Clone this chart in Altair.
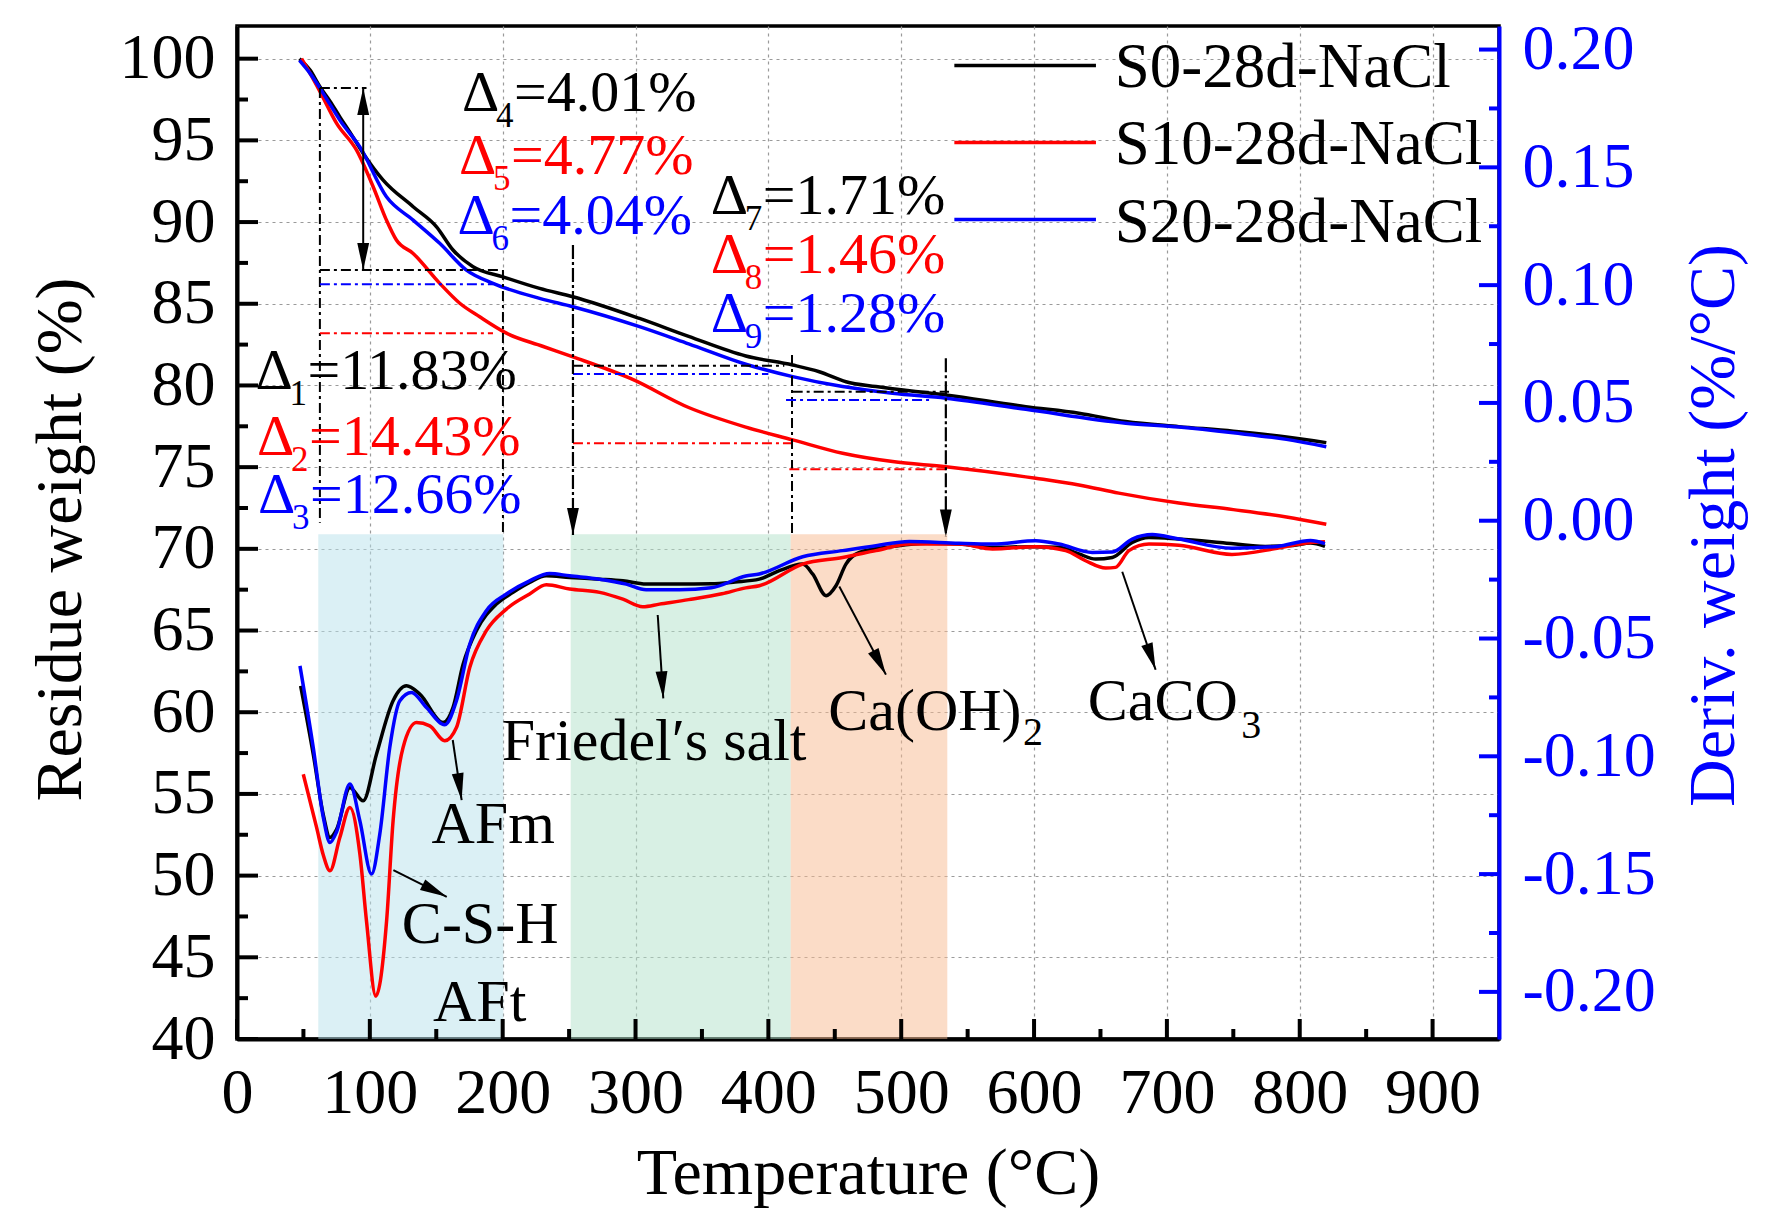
import math
import altair as alt
import pandas as pd

W, H = 1262, 1013
FONT = "Liberation Serif"
BLACK, RED, BLUE = "#000000", "#ff0000", "#0000ff"

series = ["S0-28d-NaCl", "S10-28d-NaCl", "S20-28d-NaCl"]
series_colors = [BLACK, RED, BLUE]

# TG curves: residue weight (%)
tg_s0_t = [47, 55, 62.4, 70, 77.4, 85, 95, 110, 132.6, 150.2, 162.6, 177.7, 200.2, 227.8, 252.9,
           303, 340, 383, 418.3, 438.3, 458.4, 481, 533.6, 593.8, 633.8, 669, 709, 750, 790, 820]
tg_s0_w = [100, 99.3, 98.28, 97.4, 96.44, 95.5, 94.2, 92.57, 90.94, 89.71, 88.29, 87.27, 86.65, 85.94, 85.43,
           84.1, 83.0, 81.8, 81.25, 80.84, 80.23, 79.93, 79.42, 78.7, 78.3, 77.79, 77.48, 77.2, 76.85, 76.5]

tg_s10_t = [48.6, 55, 62.4, 75, 90, 102.5, 112.5, 120, 132.6, 152.6, 167.7, 182.7, 202.8, 230, 252.9,
            297, 340, 383, 418.3, 455.9, 493.5, 533.6, 601.3, 633.8, 663.8, 709, 750, 790, 820]
tg_s10_w = [100, 99.1, 98.0, 96.04, 94.4, 92.16, 90.12, 88.9, 88.08, 86.25, 85.03, 84.2, 83.2, 82.4, 81.75,
            80.4, 78.65, 77.45, 76.67, 75.85, 75.34, 75.03, 74.32, 73.91, 73.41, 72.8, 72.4, 71.95, 71.5]

tg_s20_t = [47, 55, 62.4, 70, 77.4, 92.5, 112.5, 132.6, 152.6, 172.7, 192.7, 227.8, 252.9, 303, 340,
            383, 418.3, 455.9, 493.5, 533.6, 593.8, 669, 709, 750, 790, 820]
tg_s20_w = [99.9, 99.1, 98.2, 97.2, 96.24, 94.6, 91.55, 90.12, 88.7, 87.06, 86.25, 85.33, 84.82, 83.6, 82.55,
            81.3, 80.54, 79.93, 79.52, 79.22, 78.54, 77.69, 77.45, 77.1, 76.7, 76.25]

# DTG curves: derivative weight (%/°C)
dtg_s0_t = [47.9, 57.4, 65, 70, 75, 85, 95, 105, 117.5, 127.6, 137.6, 155.1, 162.6, 170.2, 180.2, 195.3,
            207.8, 220.3, 232.8, 250.4, 273, 290.5, 308, 333, 357, 375, 393.2, 408.3, 425.8, 433.3, 443.4,
            450.9, 458.4, 468.4, 493.5, 518.6, 543.6, 568.7, 598.7, 618.8, 633.8, 646.4, 658.9, 673.9,
            686.5, 709, 740, 774, 795, 808, 819]
dtg_s0_d = [-0.0701, -0.0991, -0.125, -0.1345, -0.131, -0.1133, -0.1189, -0.0991, -0.0764, -0.0701,
            -0.0736, -0.0857, -0.0793, -0.0609, -0.0467, -0.0354, -0.0304, -0.0262, -0.0234, -0.0241,
            -0.0248, -0.0255, -0.0269, -0.0269, -0.0268, -0.026, -0.0248, -0.0212, -0.0184, -0.0226,
            -0.0318, -0.0276, -0.0184, -0.0135, -0.011, -0.0096, -0.0099, -0.0113, -0.011, -0.0113,
            -0.0141, -0.0163, -0.0156, -0.0092, -0.0071, -0.0078, -0.0092, -0.0109, -0.0105, -0.0095, -0.0109]

dtg_s10_t = [49.9, 59.9, 65, 70, 77.4, 85, 92.5, 97.5, 104.5, 112.6, 117.5, 125, 135.1, 145.1, 156.4,
             165.2, 175.2, 187.7, 202.8, 220.3, 232.8, 250.4, 273, 290.5, 305.5, 318, 340, 365, 383,
             393.2, 425.8, 455.9, 481, 506, 543.6, 568.7, 601.3, 623.8, 638.8, 653.9, 661.4, 671.4,
             686.5, 709, 749, 783, 808, 819]
dtg_s10_d = [-0.1076, -0.1302, -0.142, -0.1486, -0.1345, -0.1217, -0.1415, -0.17, -0.2018, -0.17,
             -0.1274, -0.0963, -0.0857, -0.0871, -0.0934, -0.0878, -0.0623, -0.0467, -0.0375, -0.0311,
             -0.0272, -0.029, -0.0304, -0.0333, -0.0365, -0.0354, -0.0335, -0.031, -0.0285, -0.0276,
             -0.0184, -0.0156, -0.0127, -0.0099, -0.0099, -0.012, -0.011, -0.0127, -0.017, -0.0201,
             -0.0198, -0.0127, -0.0099, -0.0104, -0.0143, -0.0117, -0.0092, -0.0089]

dtg_s20_t = [47.4, 57.4, 65, 70, 75, 85, 92.5, 101.3, 107.5, 115, 122.6, 131.3, 142.6, 156.4, 165.2,
             175.2, 187.7, 202.8, 220.3, 235.3, 250.4, 273, 293, 308, 333, 357, 383, 393.2, 425.8,
             455.9, 481, 506, 543.6, 568.7, 601.3, 618.8, 643.8, 658.9, 673.9, 689, 709, 749, 783, 808, 819]
dtg_s20_d = [-0.0616, -0.0963, -0.126, -0.1366, -0.132, -0.1118, -0.1274, -0.15, -0.133, -0.0963,
             -0.0764, -0.0729, -0.0793, -0.0866, -0.0764, -0.0524, -0.0382, -0.0311, -0.0255, -0.0224,
             -0.0234, -0.0248, -0.0269, -0.0293, -0.0293, -0.0285, -0.0235, -0.0226, -0.0153, -0.0127,
             -0.0106, -0.0088, -0.0096, -0.0099, -0.0085, -0.0099, -0.0135, -0.0133, -0.0078, -0.0059,
             -0.0078, -0.0117, -0.0109, -0.0084, -0.0097]

# shaded temperature ranges
band_start = [61.2, 251.2, 416.8]
band_end = [200.5, 416.8, 534.7]
band_colors = ["#b7e1eb", "#b1e1c9", "#f8b98f"]

# mass-loss readings (Δ labels)
delta_sub = ["1", "2", "3", "4", "5", "6", "7", "8", "9"]
delta_rest = ["=11.83%", "=14.43%", "=12.66%", "=4.01%", "=4.77%", "=4.04%", "=1.71%", "=1.46%", "=1.28%"]
delta_color = [BLACK, RED, BLUE] * 3
delta_x = [13.9, 15.1, 15.9, 169.4, 167.2, 166.0, 356.6, 356.6, 356.6]
delta_y = [79.76, 75.75, 72.2, 96.8, 92.93, 89.3, 90.5, 86.9, 83.27]

# phase labels
phase_text = ["AFm", "C-S-H", "AFt", "Friedel\u2032s salt", "Ca(OH)", "CaCO"]
phase_x = [146.4, 124.1, 147.5, 199.3, 445.1, 640.5]
phase_y = [52.0, 45.9, 41.1, 57.1, 58.9, 59.5]
phase_sub = ["2", "3"]
phase_sub_x = [591.7, 756]
phase_sub_y = [58.0, 58.45]

# dash-dot guide lines (x1, y1, x2, y2, colour)
guides = [
    (62.4, 98.21, 97.5, 98.21, BLACK), (62.4, 98.21, 62.4, 71.6, BLACK),
    (62.4, 87.06, 197.7, 87.06, BLACK), (62.4, 86.19, 192.7, 86.19, BLUE),
    (62.4, 83.19, 192.7, 83.19, RED), (200.2, 87.06, 200.2, 71.0, BLACK),
    (252.9, 81.2, 412, 81.2, BLACK), (252.9, 80.7, 400, 80.7, BLUE),
    (252.9, 76.47, 417.8, 76.47, RED), (417.8, 81.87, 417.8, 70.96, BLACK),
    (418.3, 79.62, 536, 79.62, BLACK), (413.3, 79.11, 521, 79.11, BLUE),
    (415.8, 74.87, 533.6, 74.87, RED),
]
# arrows: tail -> tip
arrows_solid = [
    (95.0, 98.21, 95.0, 87.06), (316.7, 65.95, 320.9, 60.85), (162.4, 58.3, 169.1, 54.62),
    (117.7, 50.33, 157.9, 48.7), (453.4, 67.7, 488.5, 62.3), (666.4, 68.6, 691.5, 62.6),
]
arrows_dashed = [(252.9, 88.6, 252.9, 70.85), (533.6, 81.66, 533.6, 70.75)]

# legend placement
legend_y = [99.59, 94.87, 90.15]
legend_x1, legend_x2, legend_tx = 540, 646.6, 660.7

x_major = [0, 100, 200, 300, 400, 500, 600, 700, 800, 900]
x_minor = [50, 150, 250, 350, 450, 550, 650, 750, 850]
yl_major = [40, 45, 50, 55, 60, 65, 70, 75, 80, 85, 90, 95, 100]
yl_minor = [42.5, 47.5, 52.5, 57.5, 62.5, 67.5, 72.5, 77.5, 82.5, 87.5, 92.5, 97.5]
yr_major = [-0.2, -0.15, -0.1, -0.05, 0, 0.05, 0.1, 0.15, 0.2]
yr_minor = [-0.175, -0.125, -0.075, -0.025, 0.025, 0.075, 0.125, 0.175]

XS = alt.Scale(domain=[0, 950], nice=False, zero=False)
YL = alt.Scale(domain=[40, 102], nice=False, zero=False)
YR = alt.Scale(domain=[-0.22, 0.21], nice=False, zero=False)
COLOR = alt.Color("series:N", scale=alt.Scale(domain=series, range=series_colors), legend=None)

tg_rows, dtg_rows = [], []
for name, ts, ws in zip(series, [tg_s0_t, tg_s10_t, tg_s20_t], [tg_s0_w, tg_s10_w, tg_s20_w]):
    tg_rows += [{"series": name, "T": t, "v": w} for t, w in zip(ts, ws)]
for name, ts, ds in zip(series, [dtg_s0_t, dtg_s10_t, dtg_s20_t], [dtg_s0_d, dtg_s10_d, dtg_s20_d]):
    dtg_rows += [{"series": name, "T": t, "v": d} for t, d in zip(ts, ds)]
tg_df, dtg_df = pd.DataFrame(tg_rows), pd.DataFrame(dtg_rows)


# no axis=None here: in a shared layer that would switch the merged axis off;
# the explicit axis of the curve layers wins the merge instead
def xq(field):
    return alt.X(field, scale=XS)


def yl(field):
    return alt.Y(field, scale=YL)


def yr(field):
    return alt.Y(field, scale=YR)


x_axis = alt.Axis(title="Temperature (°C)", values=x_major, grid=True, ticks=False, labelPadding=73,
                  labelBaseline="alphabetic", labelFlush=False, labelOverlap=False,
                  titleX=W / 2, titleY=154, titleAlign="center", titleBaseline="alphabetic")
yl_axis = alt.Axis(title="Residue weight (%)", orient="left", values=yl_major, grid=True, ticks=False,
                   labelPadding=22, labelOverlap=False, titleAngle=270, titleAlign="center",
                   titleBaseline="alphabetic", titleX=-157, titleY=513)
yr_axis = alt.Axis(title="Deriv. weight (%/°C)", orient="right", values=yr_major, grid=False, ticks=False,
                   labelPadding=23, labelOverlap=False,
                   labelExpr="datum.value < 0 ? '-' + format(-datum.value, '.2f') : format(datum.value, '.2f')",
                   titleAngle=270, titleAlign="center", titleBaseline="alphabetic", titleX=234, titleY=499,
                   domainColor=BLUE, labelColor=BLUE, titleColor=BLUE)

bands = alt.Chart(pd.DataFrame({"a": band_start, "b": band_end, "c": band_colors})).mark_rect(opacity=0.5).encode(
    x=xq("a:Q"), x2="b:Q", y=yl("lo:Q"), y2="hi:Q",
    color=alt.Color("c:N", scale=None),
).transform_calculate(lo="40", hi="70.9")

tg_lines = alt.Chart(tg_df).mark_line(strokeWidth=3.5, interpolate="monotone").encode(
    x=alt.X("T:Q", scale=XS, axis=x_axis), y=alt.Y("v:Q", scale=YL, axis=yl_axis), color=COLOR)

guide_df = pd.DataFrame(guides, columns=["x1", "y1", "x2", "y2", "c"])
guide_rules = alt.Chart(guide_df).mark_rule(strokeWidth=2, strokeDash=[10, 4, 3, 4]).encode(
    x=xq("x1:Q"), y=yl("y1:Q"), x2="x2:Q", y2="y2:Q", color=alt.Color("c:N", scale=None))

arrow_solid = alt.Chart(pd.DataFrame(arrows_solid, columns=["x1", "y1", "x2", "y2"])).mark_rule(
    strokeWidth=2, color=BLACK).encode(x=xq("x1:Q"), y=yl("y1:Q"), x2="x2:Q", y2="y2:Q")
arrow_dash = alt.Chart(pd.DataFrame(arrows_dashed, columns=["x1", "y1", "x2", "y2"])).mark_rule(
    strokeWidth=2.2, color=BLACK, strokeDash=[14, 3, 3, 3]).encode(x=xq("x1:Q"), y=yl("y1:Q"), x2="x2:Q", y2="y2:Q")

# arrow heads: tip position and rotation from the tail->tip direction in screen pixels
px_x, px_y = W / 950, H / 62
heads = []
for i, (x1, y1, x2, y2) in enumerate(arrows_solid + arrows_dashed):
    dx, dy = (x2 - x1) * px_x, -(y2 - y1) * px_y
    heads.append({"x": x2, "y": y2, "ang": math.degrees(math.atan2(-dx, dy)) % 360})
    if i == 0:  # double-headed arrow
        heads.append({"x": x1, "y": y1, "ang": math.degrees(math.atan2(dx, -dy)) % 360})
head_marks = alt.Chart(pd.DataFrame(heads)).mark_point(
    shape="M0,0L-0.44,-2L0.44,-2Z", size=729, filled=True, opacity=1, color=BLACK, strokeWidth=0).encode(
    x=xq("x:Q"), y=yl("y:Q"), angle=alt.Angle("ang:Q", scale=None))

delta_df = pd.DataFrame({"x": delta_x, "y": delta_y, "sub": delta_sub, "rest": delta_rest, "c": delta_color})
delta_enc = dict(x=xq("x:Q"), y=yl("y:Q"), color=alt.Color("c:N", scale=None))
delta_a = alt.Chart(delta_df).mark_text(text="Δ", align="left", baseline="alphabetic", font=FONT,
                                        fontSize=58).encode(**delta_enc)
delta_b = alt.Chart(delta_df).mark_text(align="left", baseline="alphabetic", font=FONT, fontSize=35,
                                        dx=34, dy=16).encode(text="sub:N", **delta_enc)
delta_c = alt.Chart(delta_df).mark_text(align="left", baseline="alphabetic", font=FONT, fontSize=58,
                                        dx=52).encode(text="rest:N", **delta_enc)

phase_marks = alt.Chart(pd.DataFrame({"x": phase_x, "y": phase_y, "t": phase_text})).mark_text(
    align="left", baseline="alphabetic", font=FONT, fontSize=60, color=BLACK).encode(
    x=xq("x:Q"), y=yl("y:Q"), text="t:N")
phase_subs = alt.Chart(pd.DataFrame({"x": phase_sub_x, "y": phase_sub_y, "t": phase_sub})).mark_text(
    align="left", baseline="alphabetic", font=FONT, fontSize=40, color=BLACK).encode(
    x=xq("x:Q"), y=yl("y:Q"), text="t:N")

legend_df = pd.DataFrame({"series": series, "y": legend_y})
legend_lines = alt.Chart(legend_df).mark_rule(strokeWidth=3.5).encode(
    x=xq("a:Q"), x2="b:Q", y=yl("y:Q"), color=COLOR,
).transform_calculate(a=str(legend_x1), b=str(legend_x2))
legend_text = alt.Chart(legend_df).mark_text(align="left", baseline="middle", font=FONT, fontSize=63,
                                             color=BLACK, dy=3).encode(
    x=xq("a:Q"), y=yl("y:Q"), text="series:N",
).transform_calculate(a=str(legend_tx))

# inward ticks
yl_maj = alt.Chart(pd.DataFrame({"v": yl_major})).mark_rule(strokeWidth=4, color=BLACK).encode(
    y=yl("v:Q"), x=alt.value(0), x2=alt.value(21))
yl_min = alt.Chart(pd.DataFrame({"v": yl_minor})).mark_rule(strokeWidth=4, color=BLACK).encode(
    y=yl("v:Q"), x=alt.value(0), x2=alt.value(11))
x_maj = alt.Chart(pd.DataFrame({"v": x_major})).mark_rule(strokeWidth=4, color=BLACK).encode(
    x=xq("v:Q"), y=alt.value(H - 20), y2=alt.value(H))
x_min = alt.Chart(pd.DataFrame({"v": x_minor})).mark_rule(strokeWidth=4, color=BLACK).encode(
    x=xq("v:Q"), y=alt.value(H - 10), y2=alt.value(H))

dtg_lines = alt.Chart(dtg_df).mark_line(strokeWidth=3.5, interpolate="monotone").encode(
    x=xq("T:Q"), y=alt.Y("v:Q", scale=YR, axis=yr_axis), color=COLOR)
yr_maj = alt.Chart(pd.DataFrame({"v": yr_major})).mark_rule(strokeWidth=4, color=BLUE).encode(
    y=yr("v:Q"), x=alt.value(W - 20), x2=alt.value(W))
yr_min = alt.Chart(pd.DataFrame({"v": yr_minor})).mark_rule(strokeWidth=4, color=BLUE).encode(
    y=yr("v:Q"), x=alt.value(W - 10), x2=alt.value(W))

tg_group = alt.layer(tg_lines, bands, guide_rules, arrow_solid, arrow_dash, head_marks,
                     delta_a, delta_b, delta_c, phase_marks, phase_subs, legend_lines, legend_text,
                     yl_maj, yl_min, x_maj, x_min)
dtg_group = alt.layer(dtg_lines, yr_maj, yr_min)

chart = alt.layer(tg_group, dtg_group).resolve_scale(y="independent").properties(
    width=W, height=H,
    autosize=alt.AutoSizeParams(type="none"),
    padding={"left": 229, "top": 18, "right": 260, "bottom": 170},
    background="white",
).configure_axis(
    labelFont=FONT, titleFont=FONT, labelFontSize=64, titleFontSize=66, titleFontWeight="normal",
    domainWidth=4, domainColor=BLACK, labelColor=BLACK, titleColor=BLACK,
    gridColor="#9a9a9a", gridDash=[3, 4], gridWidth=1.2,
).configure_view(stroke=BLACK, strokeWidth=3.5)

chart.save("out.html", embed_options={"renderer": "svg", "actions": False})
